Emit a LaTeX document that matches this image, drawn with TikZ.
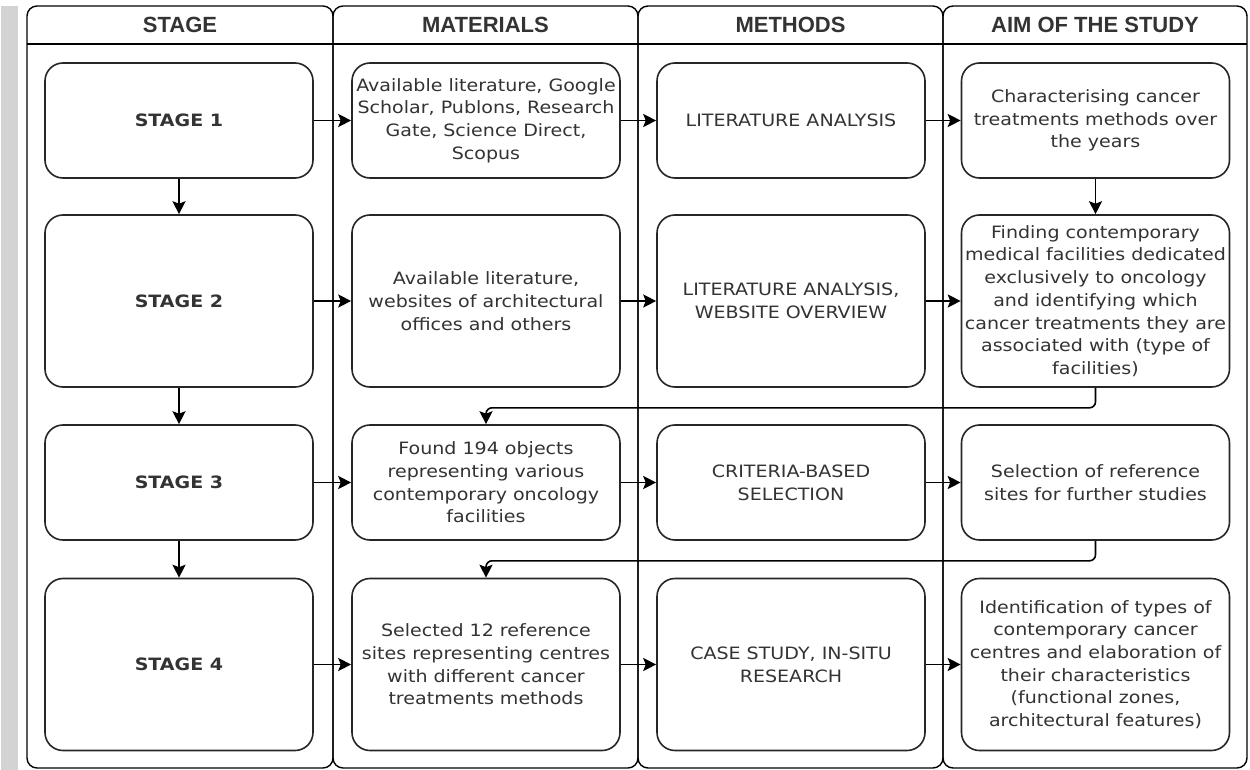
\documentclass[tikz,border=0pt]{standalone}
\usepackage{fontspec}
\usetikzlibrary{arrows.meta,calc}
\newfontfamily\bodyfont{DejaVu Sans}[FakeStretch=1.12]
\newfontfamily\headfont{Liberation Sans}
\definecolor{txt}{HTML}{333333}
\definecolor{barg}{HTML}{D3D3D3}
\tikzset{
  lane/.style={draw=black, line width=1.4bp, rounded corners=10bp},
  headtxt/.style={font=\headfont\bfseries\fontsize{22bp}{26bp}\selectfont, text=txt, inner sep=0pt},
  box/.style={draw=black!85, line width=1.6bp, rounded corners=18bp, fill=white,
     minimum width=268bp, align=center, inner sep=0pt, text=txt,
     font=\bodyfont\fontsize{17bp}{22.7bp}\selectfont},
  shortbox/.style={box, minimum height=115bp},
  tallbox/.style={box, minimum height=172bp},
  arr/.style={draw=black, line width=1.6bp, -{Stealth[length=13bp,width=13bp,inset=2.5bp]}},
}
\begin{document}
\begin{tikzpicture}[x=1bp,y=-1bp]
\useasboundingbox (0,0) rectangle (1250,770);
\fill[white] (0,0) rectangle (1250,770);
% gray side bar
\fill[barg] (1,6) rectangle (18,770);
% lanes
\draw[lane] (27,6) rectangle (333,768);
\draw[lane] (333,6) rectangle (638,768);
\draw[lane] (638,6) rectangle (943,768);
\draw[lane] (943,6) rectangle (1247,768);
\draw[line width=1.4bp] (27,44) -- (1247,44);
\node[headtxt] (h1) at (180,25) {STAGE};
\node[headtxt] (h2) at (485.5,25) {MATERIALS};
\node[headtxt] (h3) at (790.5,25) {METHODS};
\node[headtxt] (h4) at (1095,25) {AIM OF THE STUDY};
% row 1
\node[shortbox] (s1) at (179,120.5) {\textbf{STAGE 1}};
\node[shortbox] (m1) at (486,120.5) {Available literature, Google\\Scholar, Publons, Research\\Gate, Science Direct,\\Scopus};
\node[shortbox] (t1) at (791,120.5) {LITERATURE ANALYSIS};
\node[shortbox] (a1) at (1095.5,120.5) {Characterising cancer\\treatments methods over\\the years};
% row 2
\node[tallbox] (s2) at (179,301) {\textbf{STAGE 2}};
\node[tallbox] (m2) at (486,301) {Available literature,\\websites of architectural\\offices and others};
\node[tallbox] (t2) at (791,301) {LITERATURE ANALYSIS,\\WEBSITE OVERVIEW};
\node[tallbox] (a2) at (1095.5,301) {Finding contemporary\\medical facilities dedicated\\exclusively to oncology\\and identifying which\\cancer treatments they are\\associated with (type of\\facilities)};
% row 3
\node[shortbox] (s3) at (179,482.5) {\textbf{STAGE 3}};
\node[shortbox] (m3) at (486,482.5) {Found 194 objects\\representing various\\contemporary oncology\\facilities};
\node[shortbox] (t3) at (791,482.5) {CRITERIA-BASED\\SELECTION};
\node[shortbox] (a3) at (1095.5,482.5) {Selection of reference\\sites for further studies};
% row 4
\node[tallbox] (s4) at (179,664.5) {\textbf{STAGE 4}};
\node[tallbox] (m4) at (486,664.5) {Selected 12 reference\\sites representing centres\\with different cancer\\treatments methods};
\node[tallbox] (t4) at (791,664.5) {CASE STUDY, IN-SITU\\RESEARCH};
\node[tallbox] (a4) at (1095.5,664.5) {Identification of types of\\contemporary cancer\\centres and elaboration of\\their characteristics\\(functional zones,\\architectural features)};
% horizontal arrows
\foreach \r in {1,2,3,4}{
  \draw[arr] (s\r.east) -- (m\r.west);
  \draw[arr] (m\r.east) -- (t\r.west);
  \draw[arr] (t\r.east) -- (a\r.west);
}
% vertical stage arrows
\draw[arr] (s1.south) -- (s2.north);
\draw[arr] (s2.south) -- (s3.north);
\draw[arr] (s3.south) -- (s4.north);
\draw[arr] (a1.south) -- (a2.north);
% elbow connectors
\draw[arr, rounded corners=6bp] (a2.south) -- ++(0,20) -| (m3.north);
\draw[arr, rounded corners=6bp] (a3.south) -- ++(0,20) -| (m4.north);
\end{tikzpicture}
\end{document}
